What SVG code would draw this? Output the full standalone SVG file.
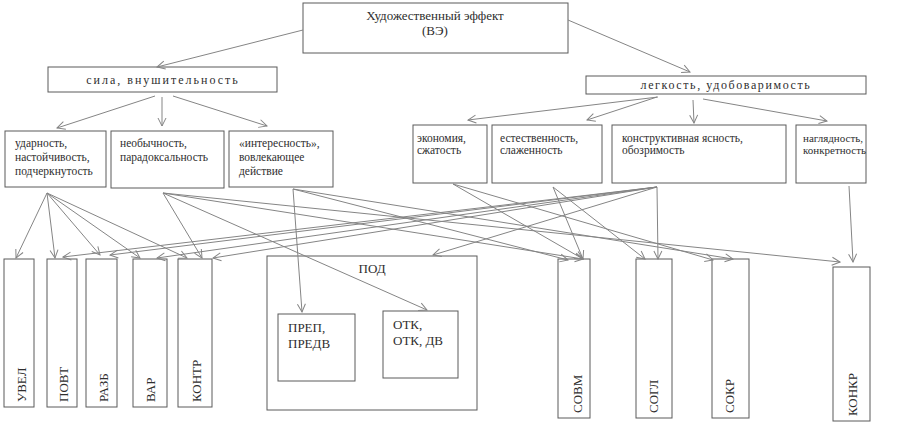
<svg xmlns="http://www.w3.org/2000/svg" width="900" height="446" viewBox="0 0 900 446" font-family="'Liberation Serif', 'DejaVu Serif', serif">
<style>
.b{fill:#fff;stroke:#5a5a5a;stroke-width:1}
.t{font-family:'Liberation Serif','DejaVu Serif','Times New Roman',serif;fill:#2e2e2e}
.s{font-size:11.5px}
.n{font-size:11px}
.m{font-size:13px}
.k{font-size:12px}
.l{font-size:13px}
.c line{stroke:#858585;stroke-width:1;marker-end:url(#a)}
</style>
<defs>
<marker id="a" markerWidth="10" markerHeight="10" refX="9" refY="5" orient="auto" markerUnits="userSpaceOnUse">
<path d="M1,1 L9,5 L1,9" fill="none" stroke="#858585" stroke-width="1"/>
</marker>
</defs>
<rect width="900" height="446" fill="#fff"/>

<g id="ve">
<rect class="b" x="303" y="3" width="265" height="50"/>
<text class="t m" x="435" y="20" text-anchor="middle">Художественный эффект</text>
<text class="t m" x="435" y="35" text-anchor="middle">(ВЭ)</text>
</g>
<g id="sila">
<rect class="b" x="48" y="67" width="229" height="25"/>
<text class="t k" x="163" y="84" text-anchor="middle" letter-spacing="2">сила, внушительность</text>
</g>
<g id="legk">
<rect class="b" x="586" y="76" width="280" height="18"/>
<text class="t k" x="726" y="89" text-anchor="middle" letter-spacing="1.6">легкость, удобоваримость</text>
</g>

<g id="udar">
<rect class="b" x="5" y="131" width="101" height="56"/>
<text class="t s" x="15" y="147">ударность,</text>
<text class="t s" x="15" y="161">настойчивость,</text>
<text class="t s" x="15" y="175">подчеркнутость</text>
</g>
<g id="neob">
<rect class="b" x="111" y="131" width="113" height="57"/>
<text class="t s" x="120" y="147">необычность,</text>
<text class="t s" x="120" y="161">парадоксальность</text>
</g>
<g id="inter">
<rect class="b" x="229" y="131" width="104" height="56"/>
<text class="t s" x="239" y="147">«интересность»,</text>
<text class="t s" x="239" y="161">вовлекающее</text>
<text class="t s" x="239" y="175">действие</text>
</g>

<g id="ekon">
<rect class="b" x="413" y="125" width="74" height="58"/>
<text class="t s" x="417" y="142">экономия,</text>
<text class="t s" x="417" y="154">сжатость</text>
</g>
<g id="estes">
<rect class="b" x="492" y="125" width="110" height="58"/>
<text class="t s" x="500" y="142">естественность,</text>
<text class="t s" x="500" y="154">слаженность</text>
</g>
<g id="konstr">
<rect class="b" x="612" y="125" width="174" height="58"/>
<text class="t s" x="622" y="142">конструктивная ясность,</text>
<text class="t s" x="622" y="154">обозримость</text>
</g>
<g id="nagl">
<rect class="b" x="796" y="125" width="70" height="58"/>
<text class="t n" x="803" y="142">наглядность,</text>
<text class="t n" x="803" y="154">конкретность</text>
</g>

<g id="uvel">
<rect class="b" x="4" y="259" width="30" height="148"/>
<text class="t l" transform="translate(26,402) rotate(-90)">УВЕЛ</text>
</g>
<g id="povt">
<rect class="b" x="47" y="259" width="30" height="148"/>
<text class="t l" transform="translate(68,402) rotate(-90)">ПОВТ</text>
</g>
<g id="razb">
<rect class="b" x="86" y="259" width="31" height="148"/>
<text class="t l" transform="translate(108,402) rotate(-90)">РАЗБ</text>
</g>
<g id="var">
<rect class="b" x="133" y="259" width="34" height="148"/>
<text class="t l" transform="translate(155,402) rotate(-90)">ВАР</text>
</g>
<g id="kontr">
<rect class="b" x="178" y="259" width="34" height="148"/>
<text class="t l" transform="translate(201,402) rotate(-90)">КОНТР</text>
</g>

<g id="pod">
<rect class="b" x="267" y="256" width="210" height="154"/>
<text class="t l" x="372" y="273" text-anchor="middle">ПОД</text>
</g>
<g id="prep">
<rect class="b" x="278" y="314" width="77" height="67"/>
<text class="t l" x="288" y="332">ПРЕП,</text>
<text class="t l" x="288" y="348">ПРЕДВ</text>
</g>
<g id="otk">
<rect class="b" x="383" y="311" width="75" height="67"/>
<text class="t l" x="393" y="329">ОТК,</text>
<text class="t l" x="393" y="345">ОТК, ДВ</text>
</g>

<g id="sovm">
<rect class="b" x="558" y="259" width="32" height="159"/>
<text class="t l" transform="translate(582,413) rotate(-90)">СОВМ</text>
</g>
<g id="sogl">
<rect class="b" x="636" y="259" width="36" height="159"/>
<text class="t l" transform="translate(658,413) rotate(-90)">СОГЛ</text>
</g>
<g id="sokr">
<rect class="b" x="712" y="259" width="37" height="159"/>
<text class="t l" transform="translate(734,413) rotate(-90)">СОКР</text>
</g>
<g id="konkr">
<rect class="b" x="833" y="267" width="37" height="154"/>
<text class="t l" transform="translate(857,416) rotate(-90)">КОНКР</text>
</g>

<g id="connectors" class="c">
<line x1="303" y1="30" x2="157" y2="67"/>
<line x1="568" y1="20" x2="690" y2="72"/>
<line x1="155" y1="96" x2="57" y2="128"/>
<line x1="162" y1="97" x2="162" y2="126"/>
<line x1="173" y1="96" x2="267" y2="126"/>
<line x1="658" y1="97" x2="468" y2="120"/>
<line x1="657" y1="97" x2="587" y2="120"/>
<line x1="693" y1="100" x2="694" y2="123"/>
<line x1="703" y1="99" x2="827" y2="121"/>

<line x1="47" y1="193" x2="16" y2="258"/>
<line x1="47" y1="193" x2="55" y2="258"/>
<line x1="47" y1="193" x2="100" y2="255"/>
<line x1="47" y1="193" x2="140" y2="258"/>
<line x1="47" y1="193" x2="187" y2="258"/>

<line x1="163" y1="193" x2="202" y2="258"/>
<line x1="163" y1="193" x2="427" y2="310"/>
<line x1="163" y1="193" x2="583" y2="259"/>
<line x1="163" y1="193" x2="840" y2="262"/>

<line x1="293" y1="189" x2="302" y2="312"/>
<line x1="293" y1="189" x2="568" y2="260"/>
<line x1="293" y1="189" x2="733" y2="259"/>

<line x1="453" y1="184" x2="583" y2="259"/>
<line x1="453" y1="184" x2="713" y2="260"/>

<line x1="553" y1="187" x2="583" y2="259"/>
<line x1="553" y1="187" x2="645" y2="259"/>

<line x1="657" y1="187" x2="63" y2="257"/>
<line x1="657" y1="187" x2="110" y2="255"/>
<line x1="657" y1="187" x2="157" y2="258"/>
<line x1="657" y1="187" x2="213" y2="258"/>
<line x1="657" y1="187" x2="433" y2="255"/>
<line x1="657" y1="187" x2="658" y2="259"/>

<line x1="849" y1="186" x2="853" y2="262"/>
</g>
</svg>
